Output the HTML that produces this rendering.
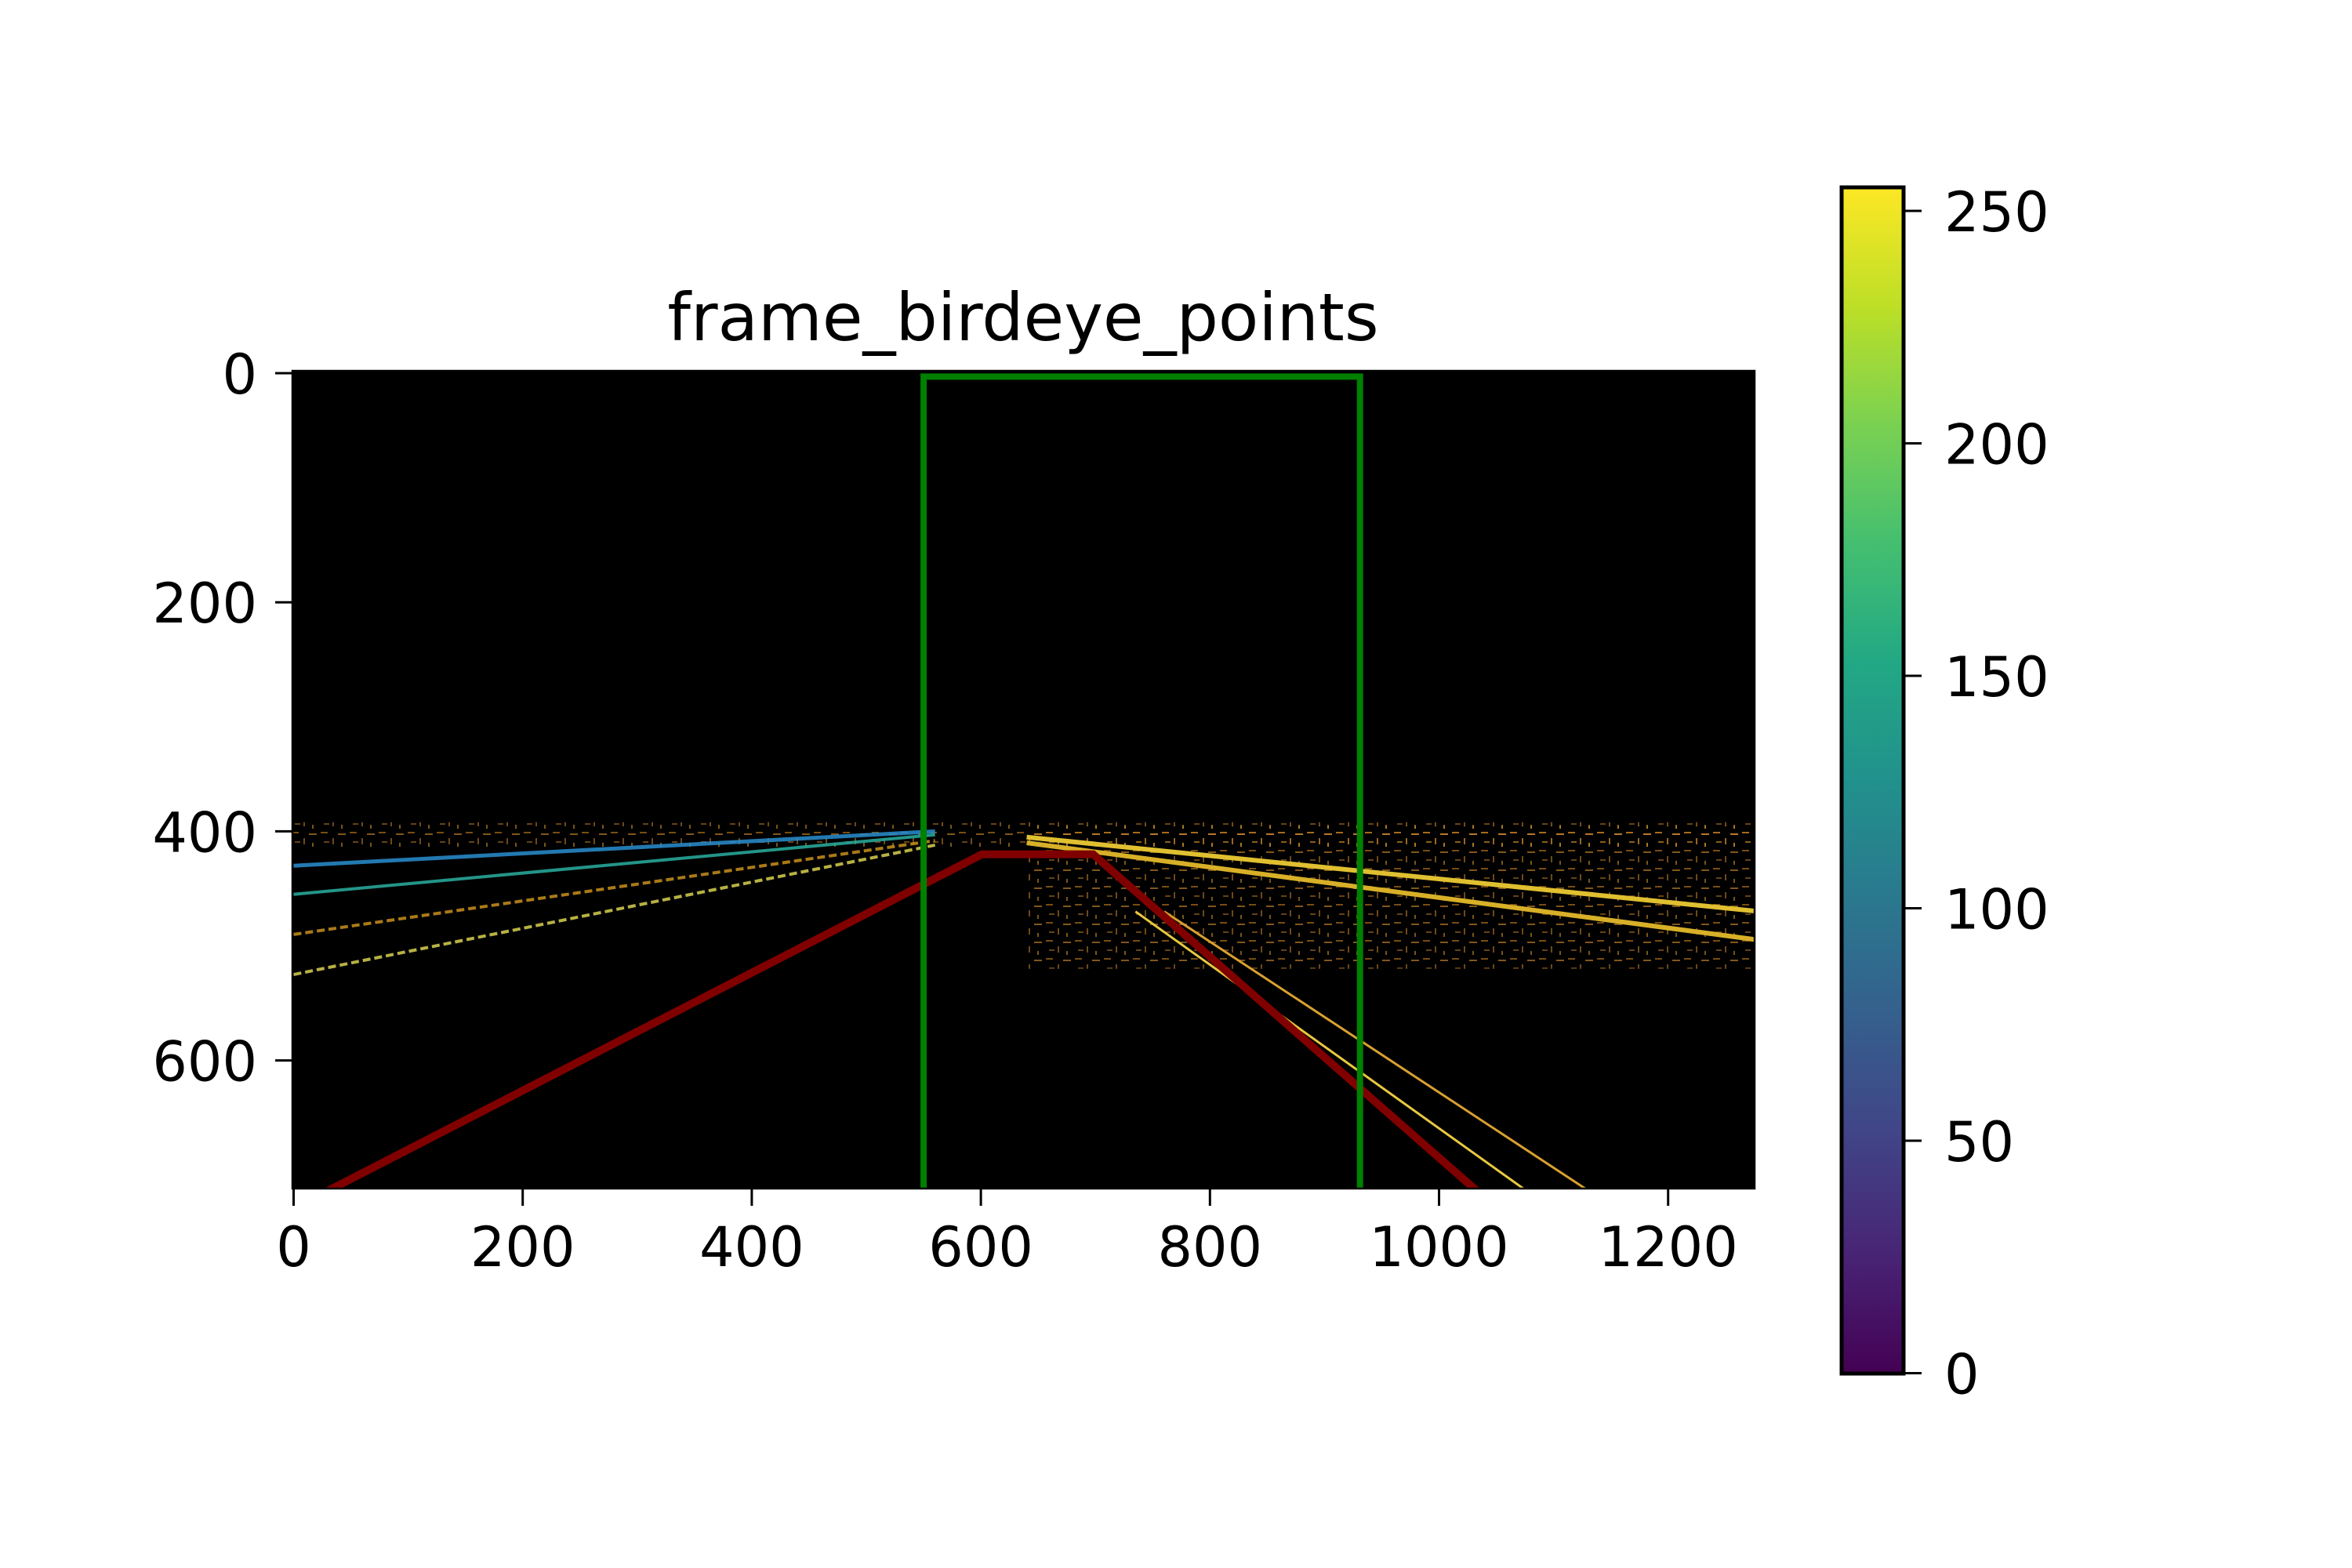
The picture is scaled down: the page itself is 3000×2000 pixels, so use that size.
<!DOCTYPE html>
<html><head><meta charset="utf-8"><style>
html,body{margin:0;padding:0;background:#fff}
svg{display:block}
text{font-family:"DejaVu Sans","Liberation Sans",sans-serif;fill:#000}
</style></head><body>
<svg id="chart" width="3000" height="2000" viewBox="0 0 3000 2000" xmlns="http://www.w3.org/2000/svg">
<defs>
<linearGradient id="viridis" x1="0" y1="1" x2="0" y2="0">
<stop offset="0" stop-color="#440154"/><stop offset="0.1" stop-color="#482475"/>
<stop offset="0.2" stop-color="#414487"/><stop offset="0.3" stop-color="#355f8d"/>
<stop offset="0.4" stop-color="#2a788e"/><stop offset="0.5" stop-color="#21918c"/>
<stop offset="0.6" stop-color="#22a884"/><stop offset="0.7" stop-color="#44bf70"/>
<stop offset="0.8" stop-color="#7ad151"/><stop offset="0.9" stop-color="#bddf26"/>
<stop offset="1" stop-color="#fde725"/></linearGradient>
<pattern id="noise" width="37" height="23" patternUnits="userSpaceOnUse">
<rect x="2" y="3" width="9" height="2" fill="#c8801e"/><rect x="17" y="11" width="2" height="8" fill="#b8782a"/>
<rect x="24" y="5" width="10" height="2" fill="#d89030"/><rect x="6" y="15" width="7" height="2" fill="#a87020"/>
<rect x="28" y="17" width="2" height="5" fill="#c89028"/>
</pattern>
<clipPath id="plotclip"><rect x="373" y="473" width="1865" height="1043"/></clipPath>
</defs>
<text x="1305" y="434" font-size="84" text-anchor="middle">frame_birdeye_points</text>
<rect x="373" y="473" width="1865" height="1043" fill="#000"/>
<g id="marks" clip-path="url(#plotclip)"></g>
<rect x="373" y="473" width="1865" height="1043" fill="none" stroke="#000" stroke-width="2.5"/>
<g id="axes"></g>
<rect x="2349" y="239" width="79" height="1513" fill="url(#viridis)" stroke="#000" stroke-width="5"/>
<g id="cbaxis"></g>
</svg>
<script>
const xTicks=[0,200,400,600,800,1000,1200];
const yTicks=[0,200,400,600];
const cbTicks=[0,50,100,150,200,250];
const redPolyX=[18,601,698,1040];
const redPolyY=[720,420,420,720];
const greenRectX=[550,931];
const greenRectY=[3,720];
const laneX1=[0,0,0,0,640,640,735,760];
const laneY1=[430,455,490,525,405,410,470,470];
const laneX2=[560,560,560,560,1280,1280,1085,1140];
const laneY2=[400,403,408,412,470,495,720,720];
const laneColor=['#2a8fd0','#2ab0a0','#c8901e','#d8d050','#e0c030','#d8b028','#e8c840','#d8a030'];
const laneWidth=[5,4,4,4,6,6,3,3];
const bandX=[0,640];
const bandY=[392,415];
const rightBandY=[395,520];

const X0=374.5,XS=1.461,Y0=476,YS=1.461;
const sx=v=>X0+v*XS, sy=v=>Y0+v*YS;
const cy=v=>1751.5-v*5.93;
const NS='http://www.w3.org/2000/svg';
function mk(tag,attrs,parent){const e=document.createElementNS(NS,tag);for(const k in attrs)e.setAttribute(k,attrs[k]);parent.appendChild(e);return e;}
const marks=document.getElementById('marks');
const axes=document.getElementById('axes');
const cba=document.getElementById('cbaxis');

const band=mk('rect',{x:sx(bandX[0]),y:sy(bandY[0]),width:sx(1280)-sx(bandX[0]),height:sy(bandY[1])-sy(bandY[0]),fill:'url(#noise)',opacity:0.6},marks);


const band2=mk('rect',{x:sx(bandX[1]),y:sy(rightBandY[0]),width:sx(1280)-sx(bandX[1]),height:sy(rightBandY[1])-sy(rightBandY[0]),fill:'url(#noise)',opacity:0.6},marks);



for(let i=0;i<laneX1.length;i++){
  const l=mk('line',{x1:sx(laneX1[i]),y1:sy(laneY1[i]),x2:sx(laneX2[i]),y2:sy(laneY2[i]),stroke:laneColor[i],'stroke-width':laneWidth[i],'stroke-dasharray':i>=2&&i<4?'10 5':'none',opacity:i<4?0.85:1},marks);
  
  
}
const pts=redPolyX.map((v,i)=>sx(v)+','+sy(redPolyY[i])).join(' ');
const red=mk('polyline',{points:pts,fill:'none',stroke:'#800000','stroke-width':10,'stroke-linejoin':'miter'},marks);


const gr=mk('rect',{x:sx(greenRectX[0]),y:sy(greenRectY[0]),width:sx(greenRectX[1])-sx(greenRectX[0]),height:sy(greenRectY[1])-sy(greenRectY[0]),fill:'none',stroke:'#008000','stroke-width':8},marks);



xTicks.forEach(v=>{
  const t=mk('line',{x1:sx(v),x2:sx(v),y1:1516,y2:1538,stroke:'#000','stroke-width':3},axes);
  
  
  const lb=mk('text',{x:sx(v),y:1615,'font-size':70,'text-anchor':'middle'},axes);
  lb.textContent=v;
  
  
});
yTicks.forEach(v=>{
  const t=mk('line',{x1:351,x2:373,y1:sy(v),y2:sy(v),stroke:'#000','stroke-width':3},axes);
  
  
  const lb=mk('text',{x:328,y:sy(v)+26,'font-size':70,'text-anchor':'end'},axes);
  lb.textContent=v;
  
  
});
cbTicks.forEach(v=>{
  const t=mk('line',{x1:2428,x2:2451,y1:cy(v),y2:cy(v),stroke:'#000','stroke-width':3},cba);
  
  
  const lb=mk('text',{x:2480,y:cy(v)+26,'font-size':70},cba);
  lb.textContent=v;
  
  
});
</script>
</body></html>
